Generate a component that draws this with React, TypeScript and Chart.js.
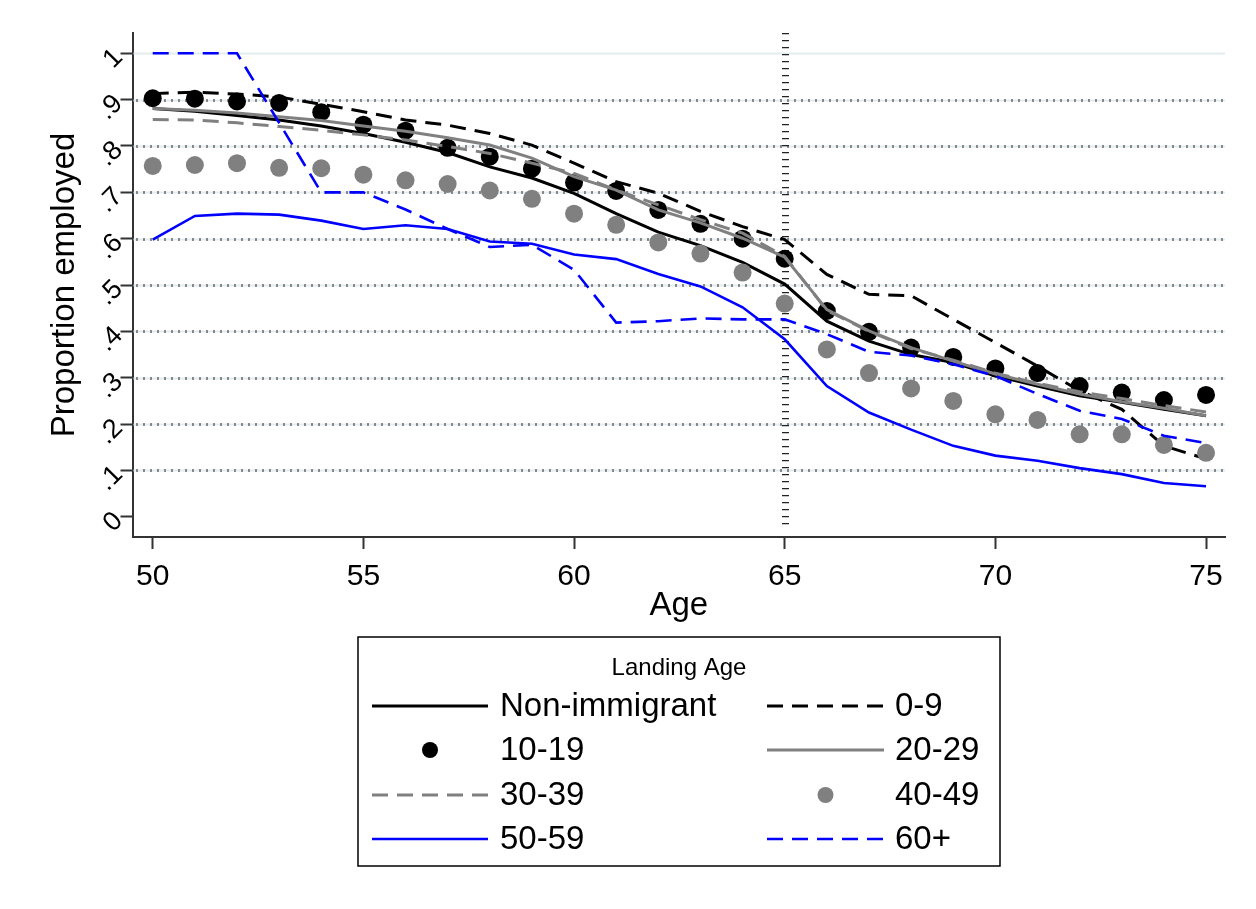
import React, { useEffect, useRef } from 'react';
import { Chart, registerables } from 'chart.js';

Chart.register(...registerables);

// ---------- data ----------
const ages = [50, 51, 52, 53, 54, 55, 56, 57, 58, 59, 60, 61, 62, 63, 64, 65, 66, 67, 68, 69, 70, 71, 72, 73, 74, 75];

const nonImmigrant = [0.881, 0.875, 0.866, 0.856, 0.843, 0.827, 0.808, 0.786, 0.755, 0.731, 0.698, 0.654, 0.614, 0.585, 0.549, 0.502, 0.422, 0.379, 0.35, 0.333, 0.304, 0.282, 0.261, 0.247, 0.232, 0.218];
const landing0to9 = [0.913, 0.916, 0.912, 0.906, 0.89, 0.874, 0.856, 0.845, 0.827, 0.802, 0.763, 0.723, 0.698, 0.659, 0.626, 0.598, 0.523, 0.48, 0.477, 0.426, 0.376, 0.325, 0.272, 0.232, 0.153, 0.125];
const landing10to19 = [0.903, 0.902, 0.896, 0.893, 0.873, 0.846, 0.833, 0.796, 0.777, 0.751, 0.721, 0.703, 0.662, 0.632, 0.6, 0.557, 0.444, 0.399, 0.365, 0.345, 0.32, 0.31, 0.282, 0.268, 0.252, 0.263];
const landing20to29 = [0.881, 0.877, 0.871, 0.863, 0.855, 0.843, 0.832, 0.818, 0.802, 0.774, 0.734, 0.705, 0.662, 0.634, 0.601, 0.56, 0.447, 0.401, 0.365, 0.336, 0.308, 0.286, 0.265, 0.248, 0.234, 0.218];
const landing30to39 = [0.857, 0.856, 0.85, 0.842, 0.834, 0.824, 0.813, 0.799, 0.784, 0.763, 0.741, 0.705, 0.673, 0.641, 0.612, 0.562, 0.445, 0.4, 0.363, 0.338, 0.31, 0.288, 0.27, 0.255, 0.24, 0.226];
const landing40to49 = [0.757, 0.759, 0.763, 0.753, 0.752, 0.738, 0.726, 0.718, 0.704, 0.686, 0.654, 0.63, 0.592, 0.568, 0.527, 0.46, 0.361, 0.31, 0.277, 0.25, 0.221, 0.209, 0.178, 0.178, 0.155, 0.138];
const landing50to59 = [0.598, 0.649, 0.654, 0.652, 0.639, 0.621, 0.629, 0.621, 0.594, 0.589, 0.566, 0.556, 0.524, 0.497, 0.452, 0.383, 0.282, 0.225, 0.188, 0.153, 0.132, 0.121, 0.105, 0.092, 0.073, 0.066];
const landing60plus = [1.0, 1.0, 1.0, 0.85, 0.7, 0.7, 0.663, 0.621, 0.582, 0.587, 0.533, 0.419, 0.422, 0.428, 0.426, 0.426, 0.394, 0.356, 0.348, 0.329, 0.304, 0.265, 0.229, 0.211, 0.175, 0.159];

const seriesLabels = ['Non-immigrant', '0-9', '10-19', '20-29', '30-39', '40-49', '50-59', '60+'];

const xTickValues = [50, 55, 60, 65, 70, 75];
const xTickLabels = ['50', '55', '60', '65', '70', '75'];
const yTickValues = [0, 0.1, 0.2, 0.3, 0.4, 0.5, 0.6, 0.7, 0.8, 0.9, 1];
const yTickLabels = ['0', '.1', '.2', '.3', '.4', '.5', '.6', '.7', '.8', '.9', '1'];
const gridValues = [0.1, 0.2, 0.3, 0.4, 0.5, 0.6, 0.7, 0.8, 0.9, 1];
const referenceAge = 65;

const xTitle = 'Age';
const yTitle = 'Proportion employed';
const legendTitle = 'Landing Age';

// ---------- styles ----------
const FONT = '"Liberation Sans", Arial, Helvetica, sans-serif';
const BLACK = '#000000';
const GRAY = '#808080';
const BLUE = '#0000ff';

type Style = { kind: 'line' | 'dot'; color: string; dash?: number[]; width?: number };
const seriesStyles: Style[] = [
  { kind: 'line', color: BLACK, width: 3 },
  { kind: 'line', color: BLACK, width: 3, dash: [16, 9] },
  { kind: 'dot', color: BLACK },
  { kind: 'line', color: GRAY, width: 3 },
  { kind: 'line', color: GRAY, width: 3, dash: [16, 9] },
  { kind: 'dot', color: GRAY },
  { kind: 'line', color: BLUE, width: 2.6 },
  { kind: 'line', color: BLUE, width: 2.6, dash: [16, 9] },
];

const seriesValues = [
  nonImmigrant, landing0to9, landing10to19, landing20to29,
  landing30to39, landing40to49, landing50to59, landing60plus,
];

const backgroundPlugin = {
  id: 'stataBackground',
  beforeDatasetsDraw(chart: any) {
    const { ctx, chartArea, scales } = chart;
    const ys = scales.y;
    const xs = scales.x;
    ctx.save();
    for (const v of gridValues) {
      const py = Math.round(ys.getPixelForValue(v)) + 0.5;
      ctx.setLineDash([]);
      ctx.strokeStyle = '#e3ecef';
      ctx.lineWidth = 2;
      ctx.beginPath();
      ctx.moveTo(chartArea.left + 1, py);
      ctx.lineTo(chartArea.right, py);
      ctx.stroke();
      if (v < 1) {
        ctx.setLineDash([1, 6]);
        ctx.strokeStyle = '#222222';
        ctx.lineWidth = 3;
        ctx.beginPath();
        ctx.moveTo(chartArea.left + 4, py);
        ctx.lineTo(chartArea.right, py);
        ctx.stroke();
      }
    }
    const px = Math.round(xs.getPixelForValue(referenceAge)) + 0.5;
    ctx.setLineDash([1.2, 5.8]);
    ctx.strokeStyle = '#222222';
    ctx.lineWidth = 7;
    ctx.beginPath();
    ctx.moveTo(px, chartArea.top);
    ctx.lineTo(px, chartArea.bottom - 7);
    ctx.stroke();
    ctx.restore();
  },
};

const legendPlugin = {
  id: 'stataLegend',
  afterDraw(chart: any) {
    const { ctx } = chart;
    const box = { left: 358, top: 637, right: 1000, bottom: 866 };
    ctx.save();
    ctx.fillStyle = '#ffffff';
    ctx.fillRect(box.left, box.top, box.right - box.left, box.bottom - box.top);
    ctx.strokeStyle = '#000000';
    ctx.lineWidth = 1.5;
    ctx.setLineDash([]);
    ctx.strokeRect(box.left, box.top, box.right - box.left, box.bottom - box.top);

    ctx.fillStyle = '#000000';
    ctx.font = `24px ${FONT}`;
    ctx.textAlign = 'center';
    ctx.textBaseline = 'middle';
    ctx.fillText(legendTitle, (box.left + box.right) / 2, 668);

    const cols = [
      { x1: 372, x2: 488, tx: 500 },
      { x1: 767, x2: 884, tx: 895 },
    ];
    const rows = [706, 750, 795, 839];
    chart.data.datasets.forEach((ds: any, i: number) => {
      const c = cols[i % 2];
      const ry = rows[Math.floor(i / 2)];
      if (ds.showLine === false) {
        ctx.beginPath();
        ctx.fillStyle = ds.pointBackgroundColor;
        ctx.arc((c.x1 + c.x2) / 2, ry, 8, 0, Math.PI * 2);
        ctx.fill();
      } else {
        ctx.beginPath();
        ctx.setLineDash(ds.borderDash || []);
        ctx.lineWidth = ds.borderWidth;
        ctx.strokeStyle = ds.borderColor;
        ctx.moveTo(c.x1, ry);
        ctx.lineTo(c.x2, ry);
        ctx.stroke();
        ctx.setLineDash([]);
      }
      ctx.fillStyle = '#000000';
      ctx.font = `33px ${FONT}`;
      ctx.textAlign = 'left';
      ctx.textBaseline = 'middle';
      ctx.fillText(ds.label, c.tx, ry + 1);
    });
    ctx.restore();
  },
};

export default function App() {
  const canvasRef = useRef<HTMLCanvasElement | null>(null);

  useEffect(() => {
    if (!canvasRef.current) return;
    const n = seriesValues.length;
    const datasets = seriesValues.map((vals, i) => {
      const st = seriesStyles[i];
      const data = ages.map((a, j) => ({ x: a, y: vals[j] }));
      if (st.kind === 'dot') {
        return {
          label: seriesLabels[i],
          data,
          showLine: false,
          pointRadius: 9,
          pointHoverRadius: 9,
          pointBackgroundColor: st.color,
          pointBorderColor: st.color,
          pointBorderWidth: 0,
          borderColor: st.color,
          backgroundColor: st.color,
          order: n - i,
        };
      }
      return {
        label: seriesLabels[i],
        data,
        showLine: true,
        borderColor: st.color,
        backgroundColor: st.color,
        borderWidth: st.width,
        borderDash: st.dash || [],
        pointRadius: 0,
        pointHoverRadius: 0,
        tension: 0,
        fill: false,
        order: n - i,
      };
    });

    const chart = new Chart(canvasRef.current, {
      type: 'line',
      data: { datasets } as any,
      plugins: [backgroundPlugin, legendPlugin],
      options: {
        responsive: false,
        animation: false,
        events: [],
        layout: { padding: { left: 45, top: 33, right: 31, bottom: 283 } },
        plugins: {
          legend: { display: false },
          tooltip: { enabled: false },
        },
        scales: {
          x: {
            type: 'linear',
            min: 49.52,
            max: 75.45,
            afterBuildTicks: (s: any) => {
              s.ticks = xTickValues.map((v) => ({ value: v }));
            },
            afterFit: (s: any) => {
              s.height = 89;
            },
            ticks: {
              callback: (_v: any, i: number) => xTickLabels[i],
              font: { family: FONT, size: 30 },
              color: '#000000',
              padding: 10,
              maxRotation: 0,
              minRotation: 0,
              autoSkip: false,
            },
            grid: {
              drawOnChartArea: false,
              drawTicks: true,
              tickLength: 12,
              tickColor: '#333333',
              tickWidth: 2,
            },
            border: { display: true, color: '#333333', width: 2 },
            title: {
              display: true,
              text: xTitle,
              font: { family: FONT, size: 33 },
              color: '#000000',
              padding: 0,
            },
          },
          y: {
            type: 'linear',
            min: -0.0436,
            max: 1.0438,
            afterBuildTicks: (s: any) => {
              s.ticks = yTickValues.map((v) => ({ value: v }));
            },
            afterFit: (s: any) => {
              s.width = 87.5;
            },
            ticks: {
              callback: (_v: any, i: number) => yTickLabels[i],
              font: { family: FONT, size: 27 },
              color: '#000000',
              padding: 2,
              minRotation: 45,
              maxRotation: 45,
              autoSkip: false,
            },
            grid: {
              drawOnChartArea: false,
              drawTicks: true,
              tickLength: 12,
              tickColor: '#333333',
              tickWidth: 2,
            },
            border: { display: true, color: '#333333', width: 2 },
            title: {
              display: true,
              text: yTitle,
              font: { family: FONT, size: 33 },
              color: '#000000',
              padding: 0,
            },
          },
        },
      } as any,
    });

    return () => {
      chart.destroy();
    };
  }, []);

  return (
    <div style={{ position: 'absolute', left: 0, top: 0, width: 1256, height: 909, background: '#ffffff' }}>
      <canvas ref={canvasRef} width={1256} height={909} style={{ display: 'block' }} />
    </div>
  );
}
